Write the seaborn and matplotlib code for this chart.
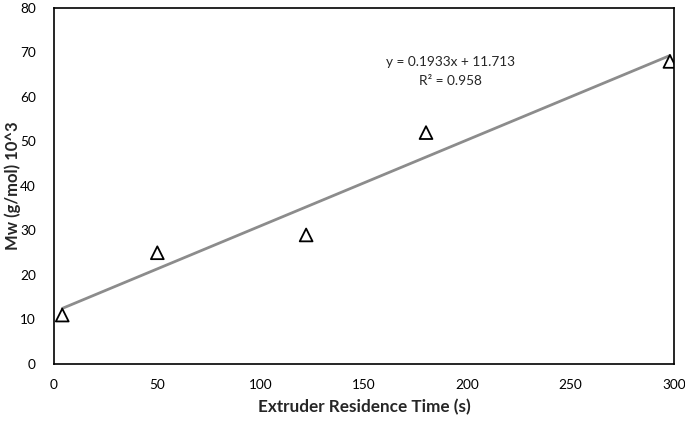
import matplotlib
matplotlib.use("Agg")
import matplotlib.pyplot as plt
import numpy as np
import pandas as pd
import seaborn as sns

# values
residence_time = [4, 50, 122, 180, 298]
mw = [11, 25, 29, 52, 68]
slope = 0.1933
intercept = 11.713
r_squared = 0.958

sns.set_style("white")
plt.rcParams["font.family"] = ["Lato", "DejaVu Sans"]

df = pd.DataFrame({"time": residence_time, "mw": mw})
trend_x = np.array([min(residence_time), max(residence_time)])
trend = pd.DataFrame({"time": trend_x, "mw": slope * trend_x + intercept})

fig = plt.figure(figsize=(6.85, 4.21), dpi=100)
ax = fig.add_axes([0.0788, 0.1354, 0.9052, 0.8456])

sns.lineplot(data=trend, x="time", y="mw", ax=ax, color="#8c8c8c", linewidth=2.0, zorder=2)
sns.scatterplot(data=df, x="time", y="mw", ax=ax, marker="^", s=85,
                facecolor="none", edgecolor="black", linewidth=1.3, zorder=3)

ax.set_xlim(0, 300)
ax.set_ylim(0, 80)
ax.set_xticks(range(0, 301, 50))
ax.set_yticks(range(0, 81, 10))
ax.tick_params(axis="x", direction="in", length=5, width=1, labelsize=9.8, pad=11, colors="black")
ax.tick_params(axis="y", length=0, labelsize=9.8, pad=13, colors="black")
for s in ax.spines.values():
    s.set_color("black")
    s.set_linewidth(1.2)

ax.set_xlabel("Extruder Residence Time (s)", fontsize=12.3, fontweight="bold")
ax.xaxis.set_label_coords(0.501, -0.098)
ax.set_ylabel("Mw (g/mol) 10^3", fontsize=12, fontweight="bold")
ax.yaxis.set_label_coords(-0.053, 0.5)

ax.text(192, 67.9, f"y = {slope}x + {intercept}", ha="center", va="center", fontsize=9.8)
ax.text(192, 63.7, f"R² = {r_squared}", ha="center", va="center", fontsize=9.8)

fig.savefig("out.png", dpi=100)
